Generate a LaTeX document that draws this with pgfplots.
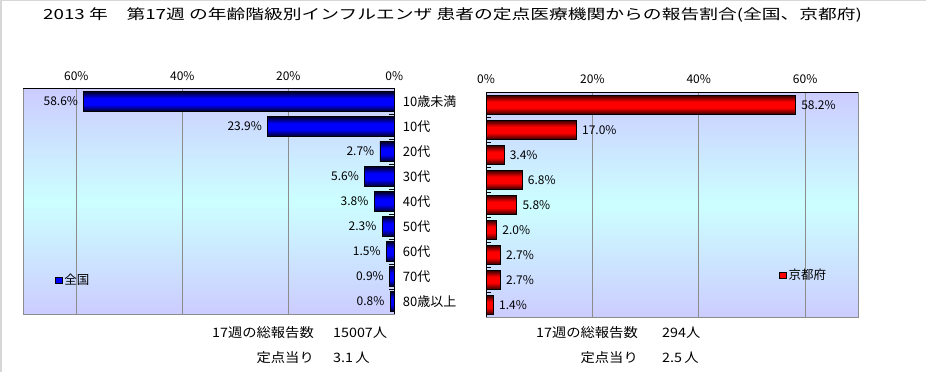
\documentclass[border=0pt]{standalone}
\usepackage{fontspec}
\setmainfont{Noto Sans CJK JP}
\usepackage{pgfplots}
\pgfplotsset{compat=1.18}
\definecolor{lav}{RGB}{204,204,255}
\definecolor{cyn}{RGB}{204,255,255}
\definecolor{gridc}{RGB}{140,140,140}
\definecolor{bdark}{RGB}{0,0,45}
\definecolor{rdark}{RGB}{45,0,0}
\definecolor{frame}{RGB}{215,215,215}
\pgfdeclareverticalshading{bluebar}{100bp}{color(0bp)=(bdark); color(25bp)=(bdark); color(42bp)=(blue); color(58bp)=(blue); color(75bp)=(bdark); color(100bp)=(bdark)}
\pgfdeclareverticalshading{redbar}{100bp}{color(0bp)=(rdark); color(25bp)=(rdark); color(42bp)=(red); color(58bp)=(red); color(75bp)=(rdark); color(100bp)=(rdark)}
\pgfdeclareverticalshading{bgshade}{100bp}{color(0bp)=(lav); color(25bp)=(lav); color(50bp)=(cyn); color(75bp)=(lav); color(100bp)=(lav)}
\pgfplotsset{panel/.style={
  scale only axis, height=225pt, y dir=reverse,
  ymin=-0.5, ymax=8.5, xmin=0, xmax=70,
  xtick={0,20,40,60}, xticklabels={0\%,20\%,40\%,60\%}, xticklabel pos=upper,
  xmajorgrids, grid style={gridc, line width=1pt},
  axis line style={gridc, line width=1pt},
  major tick length=0pt, minor tick length=5pt,
  minor ytick={0.5,1.5,2.5,3.5,4.5,5.5,6.5,7.5},
  minor tick style={black, line width=0.8pt},
  ytick={0,1,2,3,4,5,6,7,8},
  tick label style={font=\fontsize{12pt}{14pt}\selectfont},
  xticklabel style={yshift=5pt},
  axis background/.style={shade, shading=bgshade},
  /pgf/number format/assume math mode=true,
  point meta=x, clip=false,
  nodes near coords={\pgfmathprintnumber[fixed,fixed zerofill,precision=1]{\pgfplotspointmeta}\%},
  every node near coord/.append style={font=\fontsize{12pt}{14pt}\selectfont, black},
  legend style={draw=none, fill=none, inner sep=0pt, font=\fontsize{12.5pt}{14pt}\selectfont},
},
bb/.style={xbar, bar width=19.3pt, bar shift=0pt, draw=black, line width=0.8pt, shade, shading=bluebar,
  legend image code/.code={\draw[draw=black, fill=blue, line width=0.8pt, shade=false] (0pt,-3pt) rectangle (6.5pt,3pt);}},
rb/.style={xbar, bar width=19.3pt, bar shift=0pt, draw=black, line width=0.8pt, shade, shading=redbar,
  legend image code/.code={\draw[draw=black, fill=red, line width=0.8pt, shade=false] (0pt,-3pt) rectangle (6.5pt,3pt);}}
}
\newcommand{\bt}[1]{\scalebox{1.1}[1]{#1}}
\begin{document}
\begin{tikzpicture}
\path[use as bounding box] (0pt,0pt) rectangle (926pt,372pt);
\draw[line width=1.5pt, frame] (0.75pt,0pt) -- (0.75pt,371.25pt) -- (926pt,371.25pt);
\node[anchor=west, font=\fontsize{14pt}{16pt}\selectfont, inner sep=0pt] at (43pt,357.5pt) {\scalebox{1.34}[1]{2013 年\quad 第17週 の年齢階級別インフルエンザ 患者の定点医療機関からの報告割合(全国、京都府)}};

\begin{axis}[panel, at={(23.3pt,58pt)}, anchor=south west, width=371pt,
  x dir=reverse, ytick pos=right, yticklabel pos=right,
  yticklabels={10歳未満,10代,20代,30代,40代,50代,60代,70代,80歳以上},
  yticklabel style={anchor=west, xshift=5pt, font=\fontsize{13pt}{15pt}\selectfont},
  nodes near coords style={anchor=east, xshift=-2pt},
  legend style={at={(0.085,0.151)}, anchor=west},
  after end axis/.code={\draw[black, line width=1pt] (axis description cs:0,1) -- (axis description cs:1,1) -- (axis description cs:1,0);}]
\addplot[bb] coordinates {(58.6,0)};
\addlegendentry{全国}
\addplot[bb, forget plot] coordinates {(23.9,1)};
\addplot[bb, forget plot] coordinates {(2.7,2)};
\addplot[bb, forget plot] coordinates {(5.6,3)};
\addplot[bb, forget plot] coordinates {(3.8,4)};
\addplot[bb, forget plot] coordinates {(2.3,5)};
\addplot[bb, forget plot] coordinates {(1.5,6)};
\addplot[bb, forget plot] coordinates {(0.9,7)};
\addplot[bb, forget plot] coordinates {(0.8,8)};
\end{axis}

\begin{axis}[panel, at={(486pt,54.7pt)}, anchor=south west, width=372.3pt,
  ytick pos=left, yticklabels={},
  nodes near coords style={anchor=west, xshift=2pt},
  legend style={at={(0.787,0.188)}, anchor=west},
  after end axis/.code={\draw[black, line width=1pt] (axis description cs:1,1) -- (axis description cs:0,1) -- (axis description cs:0,0);}]
\addplot[rb] coordinates {(58.2,0)};
\addlegendentry{京都府}
\addplot[rb, forget plot] coordinates {(17.0,1)};
\addplot[rb, forget plot] coordinates {(3.4,2)};
\addplot[rb, forget plot] coordinates {(6.8,3)};
\addplot[rb, forget plot] coordinates {(5.8,4)};
\addplot[rb, forget plot] coordinates {(2.0,5)};
\addplot[rb, forget plot] coordinates {(2.7,6)};
\addplot[rb, forget plot] coordinates {(2.7,7)};
\addplot[rb, forget plot] coordinates {(1.4,8)};
\end{axis}

\begin{scope}[every node/.style={font=\fontsize{13pt}{15pt}\selectfont, inner sep=0pt}]
\node[anchor=east] at (314pt,39pt) {\bt{17週の総報告数}};
\node[anchor=west] at (333pt,39pt) {\bt{15007人}};
\node[anchor=east] at (314pt,14.5pt) {\bt{定点当り}};
\node[anchor=west] at (333pt,14.5pt) {\bt{3.1\,人}};
\node[anchor=east] at (638pt,39pt) {\bt{17週の総報告数}};
\node[anchor=west] at (662pt,39pt) {\bt{294人}};
\node[anchor=east] at (638pt,14.5pt) {\bt{定点当り}};
\node[anchor=west] at (662pt,14.5pt) {\bt{2.5\,人}};
\end{scope}
\end{tikzpicture}
\end{document}
